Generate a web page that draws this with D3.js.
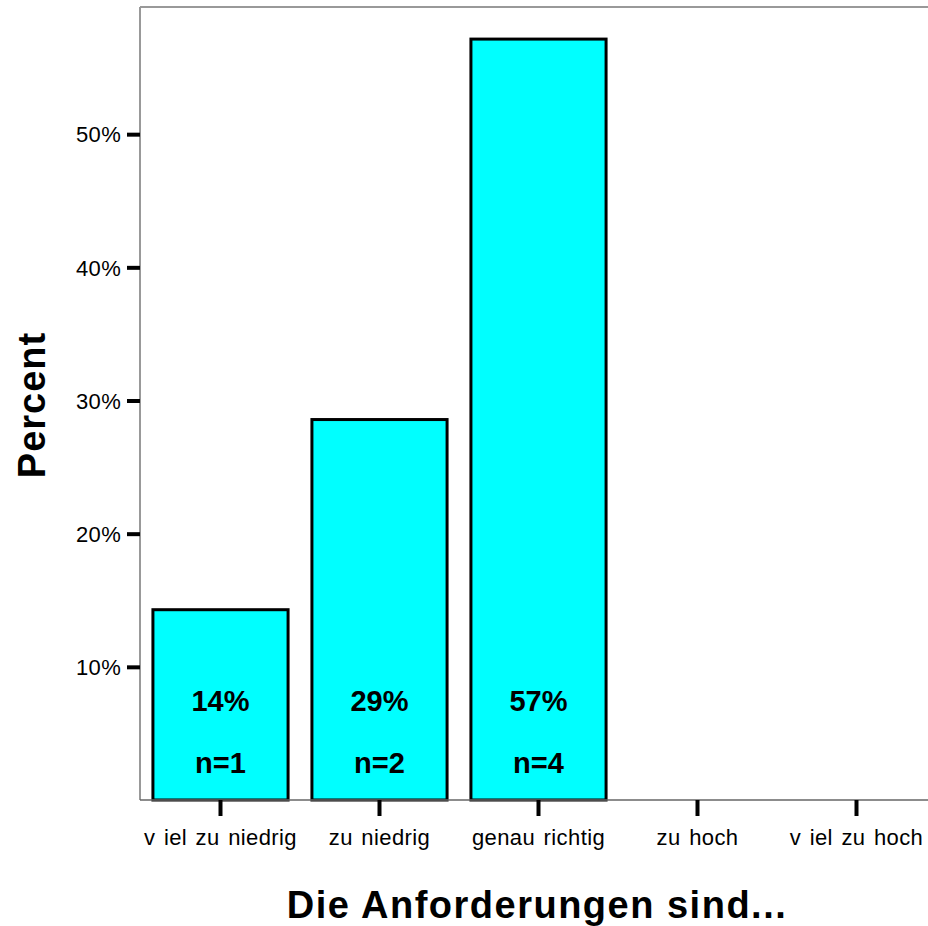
<!DOCTYPE html>
<html>
<head>
<meta charset="utf-8">
<script src="https://cdn.jsdelivr.net/npm/d3@7"></script>
<style>
  body { margin: 0; background: #fff; }
  text { font-family: Arial, "Liberation Sans", sans-serif; fill: #000; }
</style>
</head>
<body>
<svg></svg>
<script>
let categories = ["v iel zu niedrig", "zu niedrig", "genau richtig", "zu hoch", "v iel zu hoch"];
let counts = [1, 2, 4, 0, 0];
let percents = [14.29, 28.57, 57.14, 0, 0];
let yTicks = [10, 20, 30, 40, 50];

let width = 928;
let height = 926;
let svg = d3.select("svg")
            .attr("width", width)
            .attr("height", height);

let plotLeft = 140, plotTop = 7, plotBottom = 800;
let band = 159;

let x = d3.scaleBand()
          .domain(categories)
          .range([plotLeft + 1, plotLeft + 1 + band * categories.length])
          .paddingInner(0.15)
          .paddingOuter(0.075);

let y = d3.scaleLinear()
          .domain([0, 59.55])
          .range([plotBottom, plotTop]);

// frame
svg.append("line")
   .attr("x1", plotLeft).attr("x2", width)
   .attr("y1", plotTop).attr("y2", plotTop)
   .attr("stroke", "#999").attr("stroke-width", 2);
svg.append("line")
   .attr("x1", plotLeft).attr("x2", plotLeft)
   .attr("y1", plotTop).attr("y2", plotBottom)
   .attr("stroke", "#999").attr("stroke-width", 2);

// bars
let data = categories.map((c, i) => ({cat: c, pct: percents[i], n: counts[i]}));
let shown = data.filter(d => d.n > 0);

svg.append("g")
   .selectAll("rect")
   .data(shown)
   .enter()
   .append("rect")
   .attr("x", d => x(d.cat))
   .attr("y", d => y(d.pct))
   .attr("width", x.bandwidth())
   .attr("height", d => y(0) - y(d.pct))
   .attr("fill", "#00ffff")
   .attr("stroke", "#000")
   .attr("stroke-width", 3);

// bottom line
svg.append("line")
   .attr("x1", plotLeft).attr("x2", width)
   .attr("y1", plotBottom).attr("y2", plotBottom)
   .attr("stroke", "#666").attr("stroke-width", 1.5);

// y axis
let yAxis = svg.append("g")
   .attr("transform", `translate(${plotLeft},0)`)
   .call(d3.axisLeft(y)
           .tickValues(yTicks)
           .tickSize(13)
           .tickPadding(6)
           .tickFormat(d => d + "%"));
yAxis.select(".domain").remove();
yAxis.selectAll(".tick line").attr("stroke", "#000").attr("stroke-width", 4);
yAxis.selectAll(".tick text")
     .style("font-size", "22px")
     .style("letter-spacing", "0.3px")
     .attr("dy", "0.35em");

// x axis
let xAxis = svg.append("g")
   .attr("transform", `translate(0,${plotBottom})`)
   .call(d3.axisBottom(x)
           .tickSize(16)
           .tickPadding(13));
xAxis.select(".domain").remove();
xAxis.selectAll(".tick line").attr("stroke", "#000").attr("stroke-width", 4);
xAxis.selectAll(".tick text")
     .style("font-size", "22px")
     .style("letter-spacing", "0.4px")
     .style("word-spacing", "2px");

// bar labels
let labels = svg.append("g");
labels.selectAll(".pct")
      .data(shown)
      .enter()
      .append("text")
      .attr("x", d => x(d.cat) + x.bandwidth() / 2)
      .attr("y", 711)
      .attr("text-anchor", "middle")
      .style("font-size", "29px")
      .style("font-weight", "bold")
      .text(d => Math.round(d.pct) + "%");
labels.selectAll(".n")
      .data(shown)
      .enter()
      .append("text")
      .attr("x", d => x(d.cat) + x.bandwidth() / 2)
      .attr("y", 773)
      .attr("text-anchor", "middle")
      .style("font-size", "29px")
      .style("font-weight", "bold")
      .text(d => "n=" + d.n);

// axis titles
svg.append("text")
   .attr("transform", "translate(45,405) rotate(-90)")
   .attr("text-anchor", "middle")
   .style("font-size", "38px")
   .style("font-weight", "bold")
   .style("letter-spacing", "1px")
   .text("Percent");

svg.append("text")
   .attr("x", 537)
   .attr("y", 918)
   .attr("text-anchor", "middle")
   .style("font-size", "38px")
   .style("font-weight", "bold")
   .style("letter-spacing", "1.5px")
   .text("Die Anforderungen sind...");
</script>
</body>
</html>
